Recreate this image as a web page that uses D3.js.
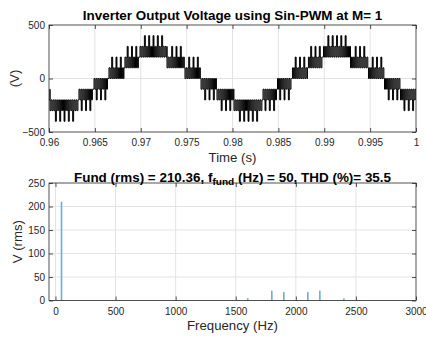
<!DOCTYPE html>
<html>
<head>
<meta charset="utf-8">
<script src="https://cdn.jsdelivr.net/npm/d3@7"></script>
<style>
body { margin: 0; background: #fff; }
text { font-family: "Liberation Sans", Arial, sans-serif; }
</style>
</head>
<body>
<script>
// top panel: staircase bands (time s, level V)
var segStart = [0.96, 0.96011, 0.96316, 0.96480, 0.96643, 0.96817, 0.96981, 0.97286, 0.97482, 0.97657, 0.97831,
                0.98016, 0.98322, 0.98480, 0.98643, 0.98817, 0.98981, 0.99286, 0.99482, 0.99657, 0.99831]
var segEnd = [0.96011, 0.96316, 0.96480, 0.96643, 0.96817, 0.96981, 0.97286, 0.97482, 0.97657, 0.97831, 0.98016,
              0.98322, 0.98480, 0.98643, 0.98817, 0.98981, 0.99286, 0.99482, 0.99657, 0.99831, 1.0]
var bandLow = [-200, -300, -200, -100, 0, 100, 200, 100, 0, -100, -200,
               -300, -200, -100, 0, 100, 200, 100, 0, -100, -200]
var bandHigh = [-100, -200, -100, 0, 100, 200, 300, 200, 100, 0, -100,
                -200, -100, 0, 100, 200, 300, 200, 100, 0, -100]
var pulseLevel = [-300, -400, -300, -200, 200, 300, 400, 300, 200, -200, -300,
                  -400, -300, -200, 200, 300, 400, 300, 200, -200, -300]
var pulseCount = [0, 5, 3, 3, 3, 3, 5, 3, 3, 3, 3,
                  5, 3, 3, 3, 3, 5, 3, 3, 3, 3]

// bottom panel: harmonic spectrum
var freqs = [50, 1600, 1800, 1900, 2100, 2200, 2400]
var mags = [210.36, 5, 21, 18, 18, 21, 4.5]

var timeTicks = [0.96, 0.965, 0.97, 0.975, 0.98, 0.985, 0.99, 0.995, 1]
var voltTicks = [-500, 0, 500]
var freqTicks = [0, 500, 1000, 1500, 2000, 2500, 3000]
var magTicks = [0, 50, 100, 150, 200, 250]

var HATCH = 0.000105, CARRIER = 0.00047, PULSE_W = 0.00011
var ink = '#262626', gridc = '#e3e3e3'

var p1 = {l: 49, r: 416, t: 25, b: 132}
var p2 = {l: 49, r: 416, t: 183, b: 300.5}

var xT = d3.scaleLinear().domain([0.96, 1]).range([p1.l, p1.r])
var yT = d3.scaleLinear().domain([-500, 500]).range([p1.b, p1.t])
var xF = d3.scaleLinear().domain([-54, 3000]).range([p2.l, p2.r])
var yF = d3.scaleLinear().domain([0, 250]).range([p2.b, p2.t])

var svg = d3.select('body').append('svg').attr('width', 426).attr('height', 337)
svg.append('defs').append('clipPath').attr('id', 'c1').append('rect')
	.attr('x', p1.l).attr('y', p1.t).attr('width', p1.r - p1.l).attr('height', p1.b - p1.t)

function grid(p, x, y, xs, ys) {
	var g = svg.append('g')
	g.selectAll('.gx').data(xs).enter().append('line')
		.attr('x1', function(d){ return x(d) }).attr('x2', function(d){ return x(d) })
		.attr('y1', p.t).attr('y2', p.b).attr('stroke', gridc).attr('stroke-width', 1)
	g.selectAll('.gy').data(ys).enter().append('line')
		.attr('y1', function(d){ return y(d) }).attr('y2', function(d){ return y(d) })
		.attr('x1', p.l).attr('x2', p.r).attr('stroke', gridc).attr('stroke-width', 1)
}

function axes(p, x, y, xt, yt, fx) {
	var g = svg.append('g')
	var ax = [
		g.append('g').attr('transform', 'translate(0,' + p.b + ')')
			.call(d3.axisBottom(x).tickValues(xt).tickSize(-4).tickSizeOuter(0).tickPadding(7).tickFormat(fx)),
		g.append('g').attr('transform', 'translate(' + p.l + ',0)')
			.call(d3.axisLeft(y).tickValues(yt).tickSize(-4).tickSizeOuter(0).tickPadding(4).tickFormat(d3.format('d'))),
		g.append('g').attr('transform', 'translate(0,' + p.t + ')')
			.call(d3.axisTop(x).tickValues(xt).tickSize(-4).tickSizeOuter(0).tickFormat('')),
		g.append('g').attr('transform', 'translate(' + p.r + ',0)')
			.call(d3.axisRight(y).tickValues(yt).tickSize(-4).tickSizeOuter(0).tickFormat(''))
	]
	ax.forEach(function(a){
		a.select('.domain').remove()
		a.selectAll('line').attr('stroke', ink).attr('stroke-width', 0.8)
		a.selectAll('text').attr('fill', ink).style('font-size', '10px')
			.style('font-family', '"Liberation Sans", Arial, sans-serif')
	})
	g.append('rect').attr('x', p.l).attr('y', p.t).attr('width', p.r - p.l).attr('height', p.b - p.t)
		.attr('fill', 'none').attr('stroke', ink).attr('stroke-width', 0.8)
}

// ---- top panel
grid(p1, xT, yT, timeTicks.slice(1, -1), [0])

var pts = []
segStart.forEach(function(s, i){
	var k = 0
	for (var t = s; t < segEnd[i]; t += HATCH) { pts.push([t, k % 2 ? bandHigh[i] : bandLow[i]]); k++ }
})
pts.push([1.0, bandLow[bandLow.length - 1]])

var wave = svg.append('g').attr('clip-path', 'url(#c1)')
wave.append('path').datum(pts)
	.attr('d', d3.line().x(function(d){ return xT(d[0]) }).y(function(d){ return yT(d[1]) }).curve(d3.curveStepAfter))
	.attr('fill', 'none').attr('stroke', '#000').attr('stroke-width', 1)

segStart.forEach(function(s, i){
	var edge = pulseLevel[i] < bandLow[i] ? bandLow[i] : bandHigh[i]
	var c = (s + segEnd[i]) / 2
	for (var j = 0; j < pulseCount[i]; j++) {
		var tp = c + (j - (pulseCount[i] - 1) / 2) * CARRIER
		wave.append('path')
			.attr('d', 'M' + xT(tp) + ',' + yT(edge) + 'V' + yT(pulseLevel[i]) + 'H' + xT(tp + PULSE_W) + 'V' + yT(edge))
			.attr('fill', '#000').attr('stroke', '#000').attr('stroke-width', 0.9)
	}
})

axes(p1, xT, yT, timeTicks, voltTicks, function(d){ return String(+d.toFixed(3)) })

// ---- bottom panel
grid(p2, xF, yF, freqTicks.slice(0, -1), magTicks.slice(1, -1))

svg.append('g').selectAll('rect').data(freqs).enter().append('rect')
	.attr('x', function(d){ return xF(d) - 0.8 }).attr('width', 1.6)
	.attr('y', function(d, i){ return yF(mags[i]) })
	.attr('height', function(d, i){ return yF(0) - yF(mags[i]) })
	.attr('fill', '#6aaedc')

axes(p2, xF, yF, freqTicks, magTicks, d3.format('d'))

// ---- texts
function label(txt, x, y, rot, bold) {
	var t = svg.append('text').attr('text-anchor', 'middle')
		.attr('transform', 'translate(' + x + ',' + y + ')' + (rot ? ' rotate(-90)' : '') + ' scale(' + (bold ? 1.12 : 1.1) + ',1)')
		.attr('fill', bold ? '#000' : ink).style('font-size', '12px').style('font-weight', bold ? 'bold' : 'normal')
	if (txt) t.text(txt)
	return t
}

label('Inverter Output Voltage using Sin-PWM at M= 1', 232.5, 19.5, false, true)
label('Time (s)', 232.5, 162, false, false)
label('(V)', 18.5, 78.5, true, false)
label('V (rms)', 22, 241.7, true, false)
label('Frequency (Hz)', 232.5, 330, false, false)

var t2 = label('', 232.5, 181.5, false, true)
t2.append('tspan').text('Fund (rms) = 210.36, f')
t2.append('tspan').attr('dy', 3).style('font-size', '9px').text('fund')
t2.append('tspan').attr('dy', -3).text(' (Hz) = 50, THD (%)= 35.5')
</script>
</body>
</html>
